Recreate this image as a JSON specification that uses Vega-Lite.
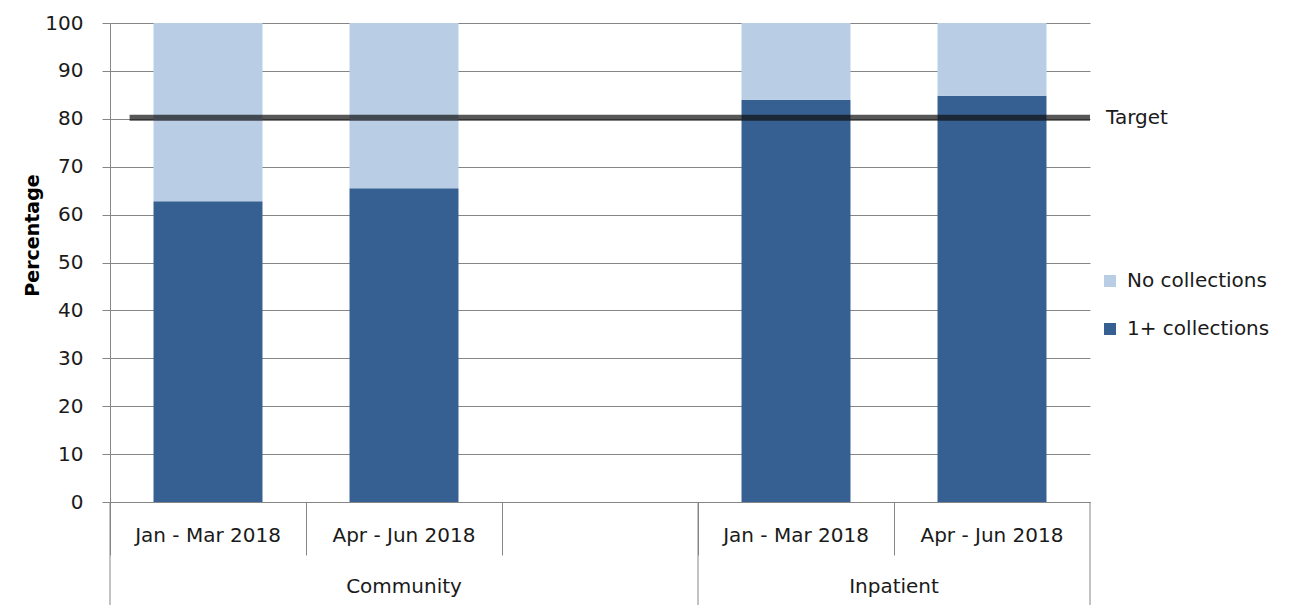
{
  "$schema": "https://vega.github.io/schema/vega-lite/v6.json",
  "width": 980,
  "height": 479,
  "autosize": {"type": "none"},
  "padding": {"left": 110, "top": 23, "right": 204, "bottom": 109},
  "background": "white",
  "config": {"view": {"stroke": null}, "font": "DejaVu Sans"},
  "datasets": {
    "bars": [
      {"cat": "Community|Jan - Mar 2018", "group": "Community", "series": "1+ collections", "value": 62.8},
      {"cat": "Community|Jan - Mar 2018", "group": "Community", "series": "No collections", "value": 37.2},
      {"cat": "Community|Apr - Jun 2018", "group": "Community", "series": "1+ collections", "value": 65.5},
      {"cat": "Community|Apr - Jun 2018", "group": "Community", "series": "No collections", "value": 34.5},
      {"cat": "Inpatient|Jan - Mar 2018", "group": "Inpatient", "series": "1+ collections", "value": 84.0},
      {"cat": "Inpatient|Jan - Mar 2018", "group": "Inpatient", "series": "No collections", "value": 16.0},
      {"cat": "Inpatient|Apr - Jun 2018", "group": "Inpatient", "series": "1+ collections", "value": 84.8},
      {"cat": "Inpatient|Apr - Jun 2018", "group": "Inpatient", "series": "No collections", "value": 15.2}
    ],
    "target": [{"label": "Target", "value": 80.2}]
  },
  "layer": [
    {
      "data": {"name": "bars"},
      "mark": {"type": "bar", "width": {"band": 0.556}},
      "encoding": {
        "x": {
          "field": "cat", "type": "nominal",
          "scale": {"domain": ["Community|Jan - Mar 2018", "Community|Apr - Jun 2018", "gap|", "Inpatient|Jan - Mar 2018", "Inpatient|Apr - Jun 2018"], "paddingInner": 0, "paddingOuter": 0},
          "axis": {"title": null, "labelExpr": "split(datum.value, '|')[1]", "labelAngle": 0, "labelFontSize": 20, "labelColor": "#1a1a1a", "labelPadding": -30, "labelBaseline": "top", "bandPosition": 0, "tickSize": 53, "tickColor": "#868686", "domainColor": "#868686", "grid": false}
        },
        "y": {
          "field": "value", "type": "quantitative", "stack": "zero",
          "scale": {"domain": [0, 100], "nice": false},
          "axis": {"title": "Percentage", "values": [0, 10, 20, 30, 40, 50, 60, 70, 80, 90, 100], "grid": true, "gridColor": "#868686", "gridOpacity": 1, "tickSize": 8, "tickColor": "#868686", "domainColor": "#868686", "labelFontSize": 20, "labelPadding": 19, "labelColor": "#1a1a1a", "titleFontSize": 19, "titleFontWeight": "bold", "titleColor": "#000000", "titleX": -78, "titleY": 212, "titleAngle": -90, "titleAlign": "center", "titleBaseline": "middle"}
        },
        "color": {
          "field": "series", "type": "nominal",
          "scale": {"domain": ["No collections", "1+ collections"], "range": ["#b9cde5", "#376092"]},
          "legend": {"orient": "none", "legendX": 990, "legendY": 248, "title": null, "labelFontSize": 20, "labelColor": "#1a1a1a", "symbolType": "square", "symbolSize": 144, "symbolStrokeWidth": 0, "rowPadding": 28, "labelOffset": 7, "padding": 0}
        },
        "order": {"field": "series", "sort": "ascending"}
      }
    },
    {
      "data": {"name": "bars"},
      "transform": [{"filter": "datum.series == '1+ collections' && (datum.cat == 'Community|Jan - Mar 2018' || datum.cat == 'Inpatient|Jan - Mar 2018')"}],
      "mark": {"type": "rule", "color": "#868686", "strokeWidth": 1},
      "encoding": {
        "x": {"field": "cat", "type": "nominal", "bandPosition": 0},
        "y": {"datum": 0},
        "y2": {"datum": -21.5}
      }
    },
    {
      "data": {"name": "bars"},
      "transform": [{"filter": "datum.series == '1+ collections' && datum.cat == 'Inpatient|Apr - Jun 2018'"}],
      "mark": {"type": "rule", "color": "#868686", "strokeWidth": 1},
      "encoding": {
        "x": {"field": "cat", "type": "nominal", "bandPosition": 1},
        "y": {"datum": 0},
        "y2": {"datum": -21.5}
      }
    },
    {
      "data": {"name": "bars"},
      "transform": [{"filter": "datum.series == '1+ collections' && datum.cat == 'Community|Apr - Jun 2018'"}],
      "mark": {"type": "text", "fontSize": 20, "color": "#1a1a1a", "baseline": "middle", "align": "center"},
      "encoding": {
        "x": {"field": "cat", "type": "nominal", "bandPosition": 0.5},
        "y": {"datum": -17.7},
        "text": {"field": "group"}
      }
    },
    {
      "data": {"name": "bars"},
      "transform": [{"filter": "datum.series == '1+ collections' && datum.cat == 'Inpatient|Apr - Jun 2018'"}],
      "mark": {"type": "text", "fontSize": 20, "color": "#1a1a1a", "baseline": "middle", "align": "center"},
      "encoding": {
        "x": {"field": "cat", "type": "nominal", "bandPosition": 0},
        "y": {"datum": -17.7},
        "text": {"field": "group"}
      }
    },
    {
      "data": {"name": "target"},
      "mark": {"type": "rule", "color": "#0f0f0f", "opacity": 0.7, "strokeWidth": 6},
      "encoding": {
        "y": {"field": "value", "type": "quantitative"},
        "x": {"datum": "Community|Jan - Mar 2018", "bandPosition": 0.1},
        "x2": {"datum": "Inpatient|Apr - Jun 2018", "bandPosition": 1}
      }
    },
    {
      "data": {"name": "target"},
      "mark": {"type": "text", "fontSize": 20, "color": "#1a1a1a", "align": "left", "baseline": "middle", "dx": 16},
      "encoding": {
        "y": {"field": "value", "type": "quantitative"},
        "x": {"datum": "Inpatient|Apr - Jun 2018", "bandPosition": 1},
        "text": {"field": "label"}
      }
    }
  ]
}
